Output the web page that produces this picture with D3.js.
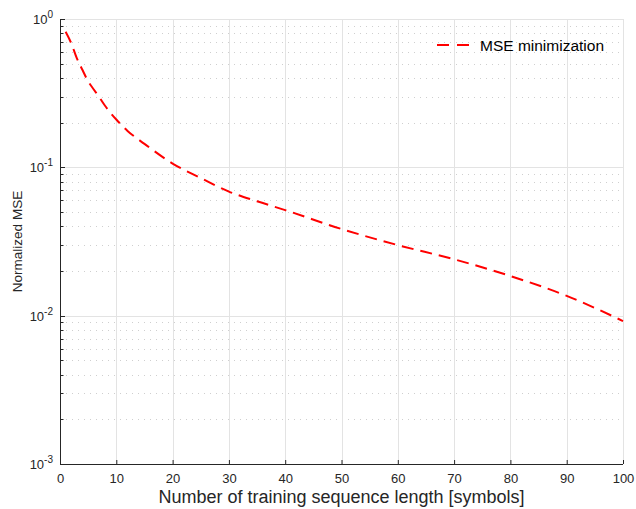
<!DOCTYPE html>
<html>
<head>
<meta charset="utf-8">
<script src="https://cdn.jsdelivr.net/npm/d3@7"></script>
<style>
  html, body { margin: 0; padding: 0; background: #fff; }
  svg { display: block; font-family: "Liberation Sans", Arial, Helvetica, sans-serif; }
</style>
</head>
<body>
<svg id="chart" width="636" height="509"></svg>
<script>
// Training sequence length (symbols) and the resulting normalized MSE
const seqLength = [1, 2, 3, 4, 5, 6, 7, 8, 9, 10, 12, 15, 20, 25, 30, 35, 40, 50, 60, 70, 80, 90, 100];
const mseValues = [0.82, 0.686, 0.543, 0.453, 0.38, 0.335, 0.296, 0.26, 0.232, 0.21, 0.176, 0.144, 0.106, 0.0847, 0.0686, 0.059, 0.0515, 0.0384, 0.0299, 0.024, 0.0185, 0.0136, 0.0092];
const xTicks = [0, 10, 20, 30, 40, 50, 60, 70, 80, 90, 100];
const yDecades = [-3, -2, -1, 0];
const seriesName = "MSE minimization";
const xTitle = "Number of training sequence length [symbols]";
const yTitle = "Normalized MSE";

const svg = d3.select("#chart");
const m = { left: 60, right: 13, top: 19, bottom: 45 };
const W = 636, H = 509;
const x = d3.scaleLinear().domain([0, 100]).range([m.left, W - m.right]);
const y = d3.scaleLog().domain([1e-3, 1]).range([H - m.bottom, m.top]);

const axisColor = "#262626";
const gridColor = "#e3e3e3";

// minor values for each decade
const minorVals = [];
yDecades.slice(0, -1).forEach(d => {
  for (let k = 2; k <= 9; k++) minorVals.push(k * Math.pow(10, d));
});

const grid = svg.append("g");
// minor horizontal grid (dotted)
grid.selectAll(".ymin").data(minorVals).join("line")
  .attr("x1", x(0)).attr("x2", x(100))
  .attr("y1", d => Math.round(y(d)) + 0.5).attr("y2", d => Math.round(y(d)) + 0.5)
  .attr("stroke", "#cfcfcf").attr("stroke-width", 1).attr("stroke-dasharray", "1,5");
// major horizontal grid
grid.selectAll(".ymaj").data(yDecades.slice(1)).join("line")
  .attr("x1", x(0)).attr("x2", x(100))
  .attr("y1", d => Math.round(y(Math.pow(10, d))) + 0.5).attr("y2", d => Math.round(y(Math.pow(10, d))) + 0.5)
  .attr("stroke", gridColor).attr("stroke-width", 1);
// vertical grid
grid.selectAll(".xmaj").data(xTicks.slice(1)).join("line")
  .attr("x1", d => Math.round(x(d)) + 0.5).attr("x2", d => Math.round(x(d)) + 0.5)
  .attr("y1", y(1)).attr("y2", y(1e-3))
  .attr("stroke", gridColor).attr("stroke-width", 1);

// curve
const line = d3.line()
  .x((d, i) => x(seqLength[i]))
  .y(d => y(d))
  .curve(d3.curveMonotoneX);
svg.append("path")
  .datum(mseValues)
  .attr("d", line)
  .attr("fill", "none")
  .attr("stroke", "#ff0000")
  .attr("stroke-width", 2)
  .attr("stroke-dasharray", "12,7");

// x axis (ticks inward)
const xAxis = d3.axisBottom(x).tickValues(xTicks).tickSize(-4).tickPadding(10).tickFormat(d3.format("d"));
const gx = svg.append("g").attr("transform", `translate(0,${y(1e-3)})`).call(xAxis);
gx.select(".domain").attr("stroke", axisColor).attr("d", `M${x(0)},0.5H${x(100)}`);
gx.selectAll(".tick line").attr("stroke", axisColor);
gx.selectAll(".tick text").attr("fill", axisColor).attr("font-size", 13)
  .attr("font-family", "'Liberation Sans', Arial, sans-serif");

// y axis (ticks inward, major and minor)
const gy = svg.append("g").attr("transform", `translate(${x(0)},0)`);
gy.append("line").attr("x1", 0.5).attr("x2", 0.5).attr("y1", y(1)).attr("y2", y(1e-3))
  .attr("stroke", axisColor);
gy.selectAll(".ymajt").data(yDecades).join("line")
  .attr("x1", 0).attr("x2", 5)
  .attr("y1", d => Math.round(y(Math.pow(10, d))) + 0.5).attr("y2", d => Math.round(y(Math.pow(10, d))) + 0.5)
  .attr("stroke", axisColor);
gy.selectAll(".ymint").data(minorVals).join("line")
  .attr("x1", 0).attr("x2", 3.5)
  .attr("y1", d => Math.round(y(d)) + 0.5).attr("y2", d => Math.round(y(d)) + 0.5)
  .attr("stroke", axisColor);
const lab = gy.selectAll(".ylab").data(yDecades).join("text")
  .attr("x", -7).attr("y", d => y(Math.pow(10, d)) + 5)
  .attr("text-anchor", "end").attr("fill", axisColor).attr("font-size", 13);
lab.append("tspan").text("10");
lab.append("tspan").attr("dy", -6).attr("font-size", 10)
  .text(d => d === 0 ? "0" : "-" + Math.abs(d));

// axis titles
svg.append("text")
  .attr("x", (x(0) + x(100)) / 2).attr("y", 503)
  .attr("text-anchor", "middle").attr("fill", axisColor).attr("font-size", 18)
  .text(xTitle);
svg.append("text")
  .attr("transform", `translate(22,${(y(1) + y(1e-3)) / 2}) rotate(-90)`)
  .attr("text-anchor", "middle").attr("fill", axisColor).attr("font-size", 13.5)
  .text(yTitle);

// legend
const lg = svg.append("g").attr("transform", "translate(437,45)");
lg.append("line").attr("x1", 0).attr("x2", 34).attr("y1", 0).attr("y2", 0)
  .attr("stroke", "#ff0000").attr("stroke-width", 2).attr("stroke-dasharray", "12,8");
lg.append("text").attr("x", 43).attr("y", 5.5).attr("fill", "#000").attr("font-size", 15.5)
  .text(seriesName);
</script>
</body>
</html>
